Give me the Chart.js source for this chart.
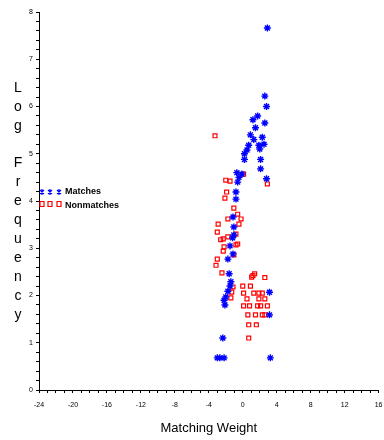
<!DOCTYPE html>
<html>
<head>
<meta charset="utf-8">
<script src="https://cdn.jsdelivr.net/npm/chart.js@4"></script>
<style>
  html, body { margin: 0; padding: 0; background: #fff; }
  #wrap { width: 384px; height: 440px; }
</style>
</head>
<body>
<div id="wrap"><canvas id="myChart"></canvas></div>
<script>
// matches (blue stars)
var matchX = [2.9, 2.6, 2.8, 1.75, 1.2, 1.5, 2.6, 0.9, 2.3, 1.3, 1.9, 2.5, 0.7, 0.5, 0.2, 2.0,
    0.2, 2.1, 2.1, -0.1, -0.45, -0.6, -0.7, 2.8, -0.8, -0.8, -1.15, -1.05, -1.05, -1.2, -1.5,
    -1.15, -1.75, -1.6, -1.4, -1.5, -1.75, -2.0, -2.2, -2.1, 3.15, 3.15, -2.35, -3.0, -2.7, -2.2, 3.25];
var matchY = [7.66, 6.22, 6.0, 5.8, 5.72, 5.55, 5.65, 5.4, 5.35, 5.3, 5.18, 5.2, 5.18, 5.08, 5.0, 5.1,
    4.88, 4.88, 4.68, 4.57, 4.5, 4.4, 4.6, 4.47, 4.19, 4.04, 3.66, 3.45, 3.28, 3.22, 3.05,
    2.88, 2.77, 2.46, 2.29, 2.2, 2.09, 1.97, 1.9, 1.8, 2.07, 1.59, 1.1, 0.68, 0.68, 0.68, 0.68];

// nonmatches (red squares)
var nonX = [-3.27, 0.1, 2.9, -2.0, -1.5, -1.9, -2.1, -1.05, -0.6, -0.2, -0.45, -1.75, -2.9, -3.0,
    -2.3, -2.6, -1.75, -0.8, -0.6, -0.8, -2.2, -2.3, -1.05, -3.0, -3.15, -2.45,
    1.05, 1.4, 1.2, 2.6, -1.15, -1.3, -1.4, 0.0, 0.9,
    0.1, 1.3, 1.9, 2.3, 0.5, 1.9, 2.6, 0.1, 0.8, 1.75, 2.1, 2.9,
    0.6, 1.5, 2.3, 2.6, 0.7, 1.6, 0.7];
var nonY = [5.38, 4.57, 4.36, 4.44, 4.42, 4.19, 4.06, 3.85, 3.72, 3.62, 3.51, 3.62, 3.51, 3.34,
    3.2, 3.18, 3.24, 3.3, 3.09, 3.07, 3.03, 2.94, 2.86, 2.77, 2.64, 2.48,
    2.39, 2.46, 2.42, 2.38, 2.18, 2.07, 1.95, 2.2, 2.2,
    2.05, 2.05, 2.05, 2.05, 1.93, 1.93, 1.93, 1.78, 1.78, 1.78, 1.78, 1.78,
    1.59, 1.59, 1.59, 1.59, 1.38, 1.38, 1.1];

var yTitle = 'Log Frequency';
var xTitle = 'Matching Weight';

function toPoints(xs, ys) {
    var pts = [];
    for (var i = 0; i < xs.length; i++) pts.push({ x: xs[i], y: ys[i] });
    return pts;
}

// vertical stacked y title + legend inside the plot
var extras = {
    id: 'extras',
    afterDraw: function (chart) {
        var ctx = chart.ctx;
        ctx.save();
        ctx.fillStyle = '#000';
        ctx.font = '14px "Liberation Sans Narrow", "Liberation Sans", sans-serif';
        ctx.textAlign = 'center';
        ctx.textBaseline = 'middle';
        for (var i = 0; i < yTitle.length; i++) {
            ctx.fillText(yTitle[i], 18, 88 + i * 18.9);
        }

        var rows = [[192, 192], [204, 206]];
        chart.data.datasets.forEach(function (ds, k) {
            var y = rows[k][0];
            ctx.strokeStyle = ds.borderColor;
            ctx.lineWidth = 1.2;
            [42, 50, 59].forEach(function (x) {
                ctx.beginPath();
                if (ds.pointStyle === 'star') {
                    ctx.moveTo(x, y - 3); ctx.lineTo(x, y + 3);
                    ctx.moveTo(x - 2, y - 2); ctx.lineTo(x + 2, y + 2);
                    ctx.moveTo(x + 2, y - 2); ctx.lineTo(x - 2, y + 2);
                } else {
                    ctx.rect(x - 2, y - 2.5, 4, 5);
                }
                ctx.stroke();
            });
            ctx.fillStyle = '#000';
            ctx.font = 'bold 9px "Liberation Sans Narrow", "Liberation Sans", sans-serif';
            ctx.textAlign = 'left';
            ctx.fillText(ds.label, 65, rows[k][1]);
        });
        ctx.restore();
    }
};

var tickFont = { family: '"Liberation Sans Narrow", "Liberation Sans", sans-serif', size: 7 };

var ctx = document.getElementById('myChart');
window.myChart = new Chart(ctx, {
    type: 'scatter',
    data: {
        datasets: [{
            label: 'Matches',
            data: toPoints(matchX, matchY),
            pointStyle: 'star',
            pointRadius: 3.5,
            borderWidth: 1.4,
            borderColor: '#0000ff',
            backgroundColor: '#0000ff'
        }, {
            label: 'Nonmatches',
            data: toPoints(nonX, nonY),
            pointStyle: 'rect',
            pointRadius: 2.8,
            borderWidth: 1.2,
            borderColor: '#ff0000',
            backgroundColor: 'rgba(255,255,255,0)'
        }]
    },
    options: {
        responsive: true,
        maintainAspectRatio: false,
        animation: false,
        layout: { padding: { top: 12, right: 0, left: 0, bottom: 0 } },
        plugins: {
            legend: { display: false },
            tooltip: { enabled: false }
        },
        scales: {
            x: {
                type: 'linear',
                min: -24,
                max: 16,
                afterFit: function (scale) {
                    scale.height = 50;
                    scale.paddingRight = 0;
                    scale.paddingLeft = 0;
                },
                border: { color: '#000', width: 1 },
                grid: { drawOnChartArea: false, drawTicks: true, tickLength: 3, color: '#000' },
                ticks: {
                    stepSize: 1,
                    autoSkip: false,
                    maxRotation: 0,
                    padding: 8,
                    color: '#000',
                    font: tickFont,
                    callback: function (v) { return v % 4 === 0 ? String(v) : ''; }
                },
                title: {
                    display: true,
                    text: xTitle,
                    color: '#000',
                    font: { family: '"Liberation Sans Narrow", "Liberation Sans", sans-serif', size: 13 },
                    padding: { top: 0, bottom: 4 }
                }
            },
            y: {
                type: 'linear',
                min: 0,
                max: 8,
                afterFit: function (scale) {
                    scale.width = 39;
                },
                border: { color: '#000', width: 1 },
                grid: { drawOnChartArea: false, drawTicks: true, tickLength: 3, color: '#000' },
                ticks: {
                    stepSize: 0.2,
                    autoSkip: false,
                    padding: 3,
                    color: '#000',
                    font: tickFont,
                    callback: function (v) {
                        return Math.abs(v - Math.round(v)) < 1e-6 ? String(Math.round(v)) : '';
                    }
                }
            }
        }
    },
    plugins: [extras]
});
</script>
</body>
</html>
